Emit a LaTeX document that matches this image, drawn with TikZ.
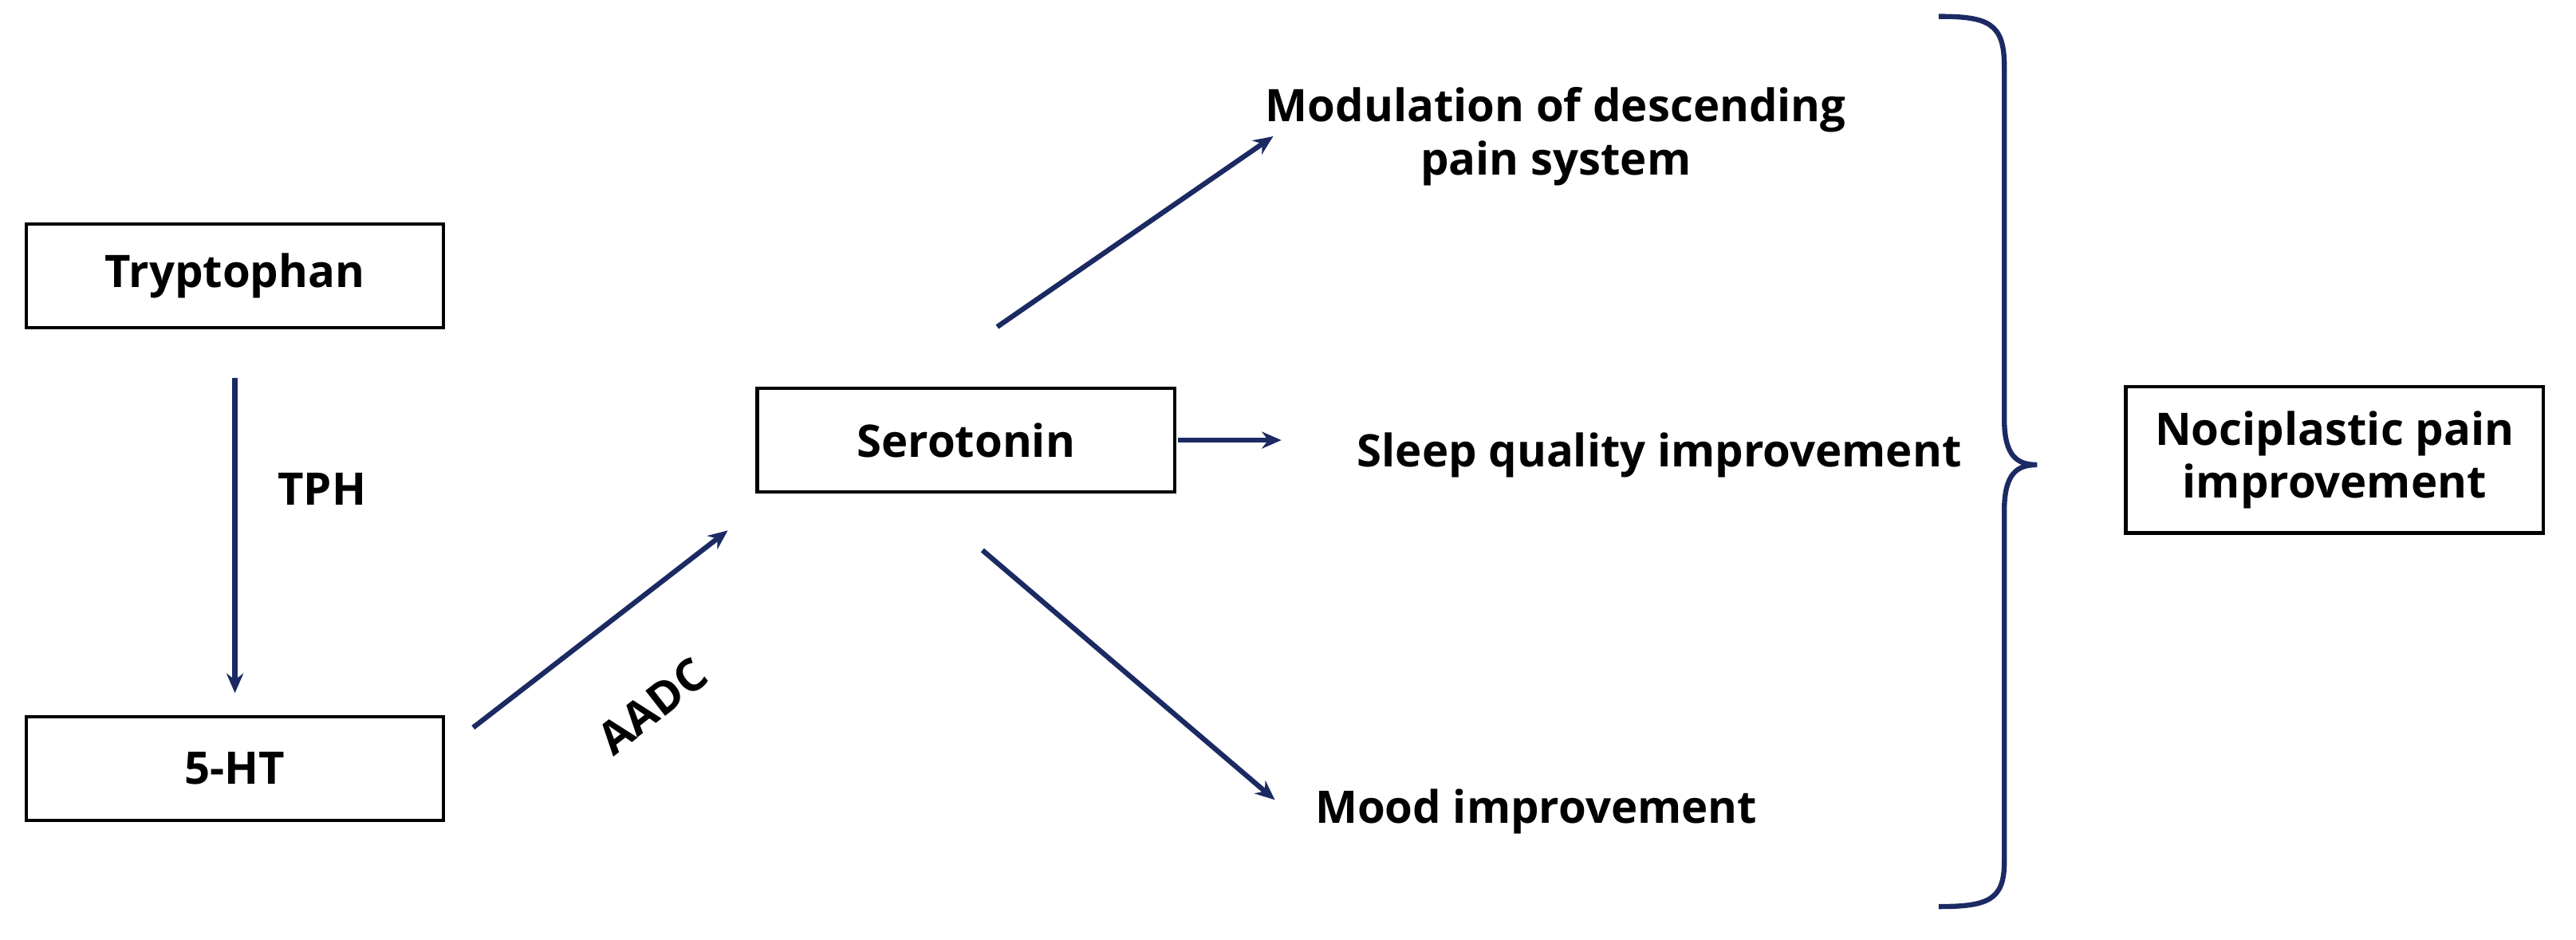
\documentclass[tikz,border=0pt]{standalone}
\usepackage{fontspec}
\setmainfont{Open Sans}
\usetikzlibrary{arrows.meta}
\definecolor{navy}{HTML}{1B2A63}
\begin{document}
\begin{tikzpicture}[x=0.0206cm,y=-0.0206cm,>={Stealth[length=7pt,width=6pt]},thick,
  box/.style={draw,line width=1.3pt,minimum width=254*0.0206cm,minimum height=63*0.0206cm,font=\fontsize{16}{19}\selectfont\bfseries,align=center},
  lbl/.style={font=\fontsize{16}{19}\selectfont\bfseries,align=center},
  arr/.style={->,navy,line width=1.8pt}]
\useasboundingbox (0,0) rectangle (1568,572);
\node[box] (tryp) at (143,168) {Tryptophan};
\node[box] (ht) at (143,468) {5-HT};
\node[box] (sero) at (588,268) {Serotonin};
\node[box,minimum height=89*0.0206cm] (noci) at (1421,280) {Nociplastic pain\\improvement};
\node[lbl] (mod) at (947,83) {Modulation of descending\\pain system};
\node[lbl] (sleep) at (1010,277) {Sleep quality improvement};
\node[lbl] (mood) at (935,494) {Mood improvement};
\node[lbl] (tph) at (196,298) {TPH};
\node[lbl,rotate=38,inner sep=0pt] (aadc) at (397,430) {AADC};
% arrows
\coordinate (a1) at (143,230); \coordinate (a2) at (143,422);
\draw[arr] (a1) -- (a2);
\coordinate (b1) at (288,443); \coordinate (b2) at (443,323);
\draw[arr] (b1) -- (b2);
\coordinate (c1) at (607,199); \coordinate (c2) at (775,83);
\draw[arr] (c1) -- (c2);
\coordinate (d1) at (717,268); \coordinate (d2) at (780,268);
\draw[arr] (d1) -- (d2);
\coordinate (e1) at (598,335); \coordinate (e2) at (776,487);
\draw[arr] (e1) -- (e2);
% brace
\draw[navy,line width=1.8pt] (1180,10) .. controls (1210,10) and (1220,14) .. (1220,40)
  -- (1220,255) .. controls (1220,278) and (1228,283) .. (1240,283)
  .. controls (1228,283) and (1220,288) .. (1220,311)
  -- (1220,525) .. controls (1220,548) and (1210,552) .. (1180,552);
\end{tikzpicture}
\end{document}
